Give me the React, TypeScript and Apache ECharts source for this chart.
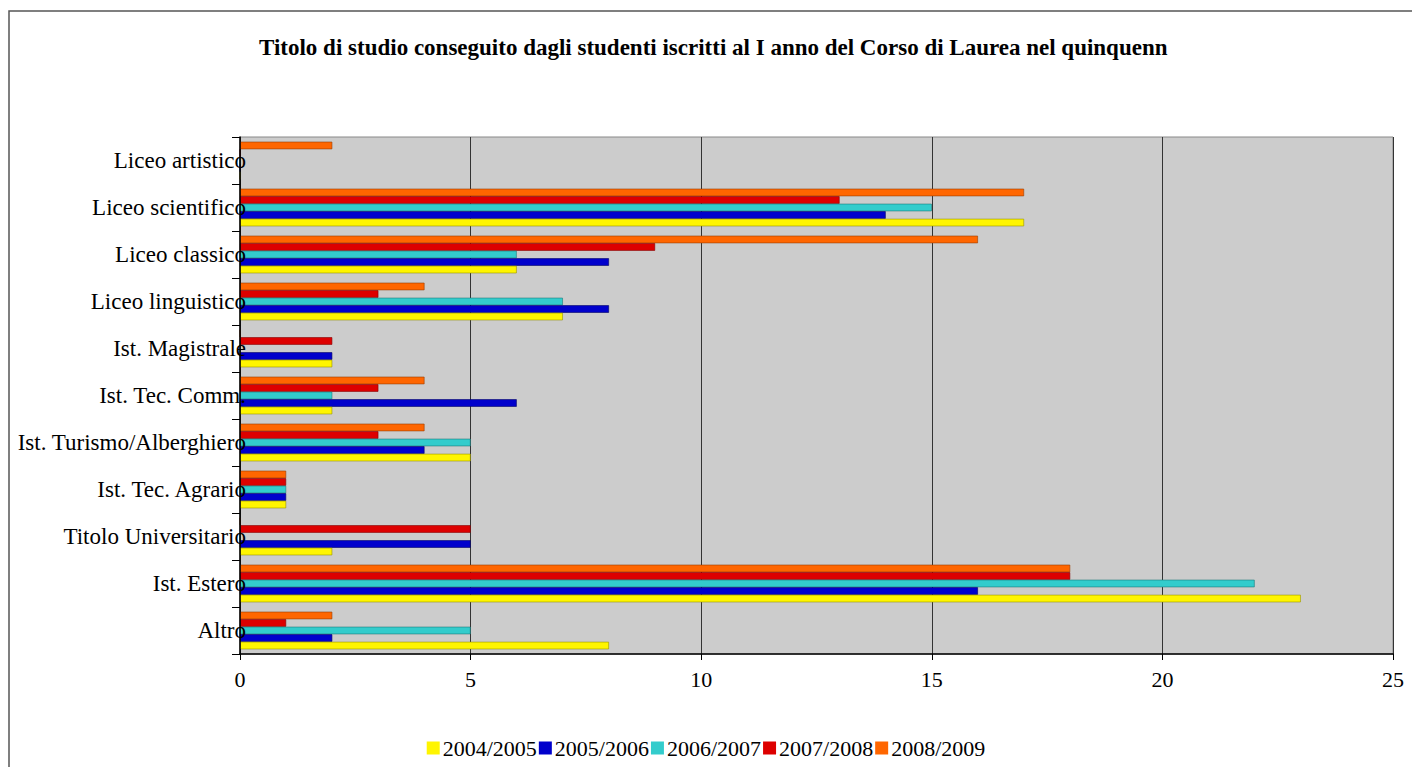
import React, { useEffect, useRef } from "react";
import * as echarts from "echarts";

const titleText =
  "Titolo di studio conseguito dagli studenti iscritti al I anno del Corso di Laurea nel quinquenn";

// categories listed bottom-to-top (as drawn on the category axis)
const categories = [
  "Altro",
  "Ist. Estero",
  "Titolo Universitario",
  "Ist. Tec. Agrario",
  "Ist. Turismo/Alberghiero",
  "Ist. Tec. Comm.",
  "Ist. Magistrale",
  "Liceo linguistico",
  "Liceo classico",
  "Liceo scientifico",
  "Liceo artistico",
];

const seriesNames = ["2004/2005", "2005/2006", "2006/2007", "2007/2008", "2008/2009"];

const values2004 = [8, 23, 2, 1, 5, 2, 2, 7, 6, 17, 0];
const values2005 = [2, 16, 5, 1, 4, 6, 2, 8, 8, 14, 0];
const values2006 = [5, 22, 0, 1, 5, 2, 0, 7, 6, 15, 0];
const values2007 = [1, 18, 5, 1, 3, 3, 2, 3, 9, 13, 0];
const values2008 = [2, 18, 0, 1, 4, 4, 0, 4, 16, 17, 2];

const xTicks = [0, 5, 10, 15, 20, 25];

const colors = ["#FFF500", "#0000CC", "#33CCCC", "#DD0000", "#FF6600"];
const edgeColors = ["#999300", "#000066", "#1F7A7A", "#850000", "#993D00"];

const FONT = "'Liberation Serif', 'DejaVu Serif', serif";

export default function App() {
  const ref = useRef<HTMLDivElement>(null);

  useEffect(() => {
    if (!ref.current) return;
    const chart = echarts.init(ref.current, null, { renderer: "svg" });
    const allValues = [values2004, values2005, values2006, values2007, values2008];
    // horizontal bars: the first series is drawn at the top of each band,
    // so the series are added newest first (2008/2009 on top, 2004/2005 at the bottom)
    const order = [4, 3, 2, 1, 0];

    chart.setOption({
      animation: false,
      backgroundColor: "#ffffff",
      textStyle: { fontFamily: FONT },
      title: {
        text: titleText,
        left: 254,
        top: 31,
        textStyle: {
          fontFamily: FONT,
          fontWeight: "bold",
          fontSize: 23,
          color: "#000",
        },
      },
      legend: {
        bottom: 3,
        left: "center",
        icon: "rect",
        itemWidth: 13,
        itemHeight: 13,
        itemGap: 2,
        data: seriesNames,
        itemStyle: { borderWidth: 0 },
        textStyle: { fontFamily: FONT, fontSize: 22, color: "#000", padding: [0, 0, 0, -2] },
      },
      grid: {
        left: 240,
        right: 19,
        top: 137,
        bottom: 113,
        show: true,
        backgroundColor: "#CCCCCC",
        borderColor: "#888888",
        borderWidth: 1,
      },
      xAxis: {
        type: "value",
        min: 0,
        max: 25,
        interval: 5,
        axisLine: { show: true, lineStyle: { color: "#000", width: 1.5 } },
        axisTick: { show: true, length: 6, lineStyle: { color: "#000" } },
        axisLabel: {
          fontFamily: FONT,
          fontSize: 22,
          color: "#000",
          margin: 14,
          formatter: (v: number) => (xTicks.includes(v) ? String(v) : ""),
        },
        splitLine: { show: true, lineStyle: { color: "#333333", width: 1 } },
      },
      yAxis: {
        type: "category",
        data: categories,
        axisLine: { show: true, lineStyle: { color: "#000", width: 1.5 } },
        axisTick: { show: true, length: 8, lineStyle: { color: "#000" } },
        axisLabel: {
          fontFamily: FONT,
          fontSize: 23,
          color: "#000",
          margin: -6,
        },
        splitLine: { show: false },
        z: 5,
      },
      graphic: [
        {
          type: "rect",
          shape: { x: 9, y: 11, width: 1500, height: 900 },
          style: { fill: "none", stroke: "#555", lineWidth: 1.5 },
          silent: true,
        },
      ],
      series: order.map((i) => ({
        name: seriesNames[i],
        type: "bar",
        data: allValues[i],
        barGap: "0%",
        barCategoryGap: "20%",
        itemStyle: {
          color: colors[i],
          borderColor: edgeColors[i],
          borderWidth: 0.6,
        },
      })),
    });

    return () => chart.dispose();
  }, []);

  return (
    <div
      ref={ref}
      style={{ position: "fixed", left: 0, top: 0, width: 1412, height: 767 }}
    />
  );
}
